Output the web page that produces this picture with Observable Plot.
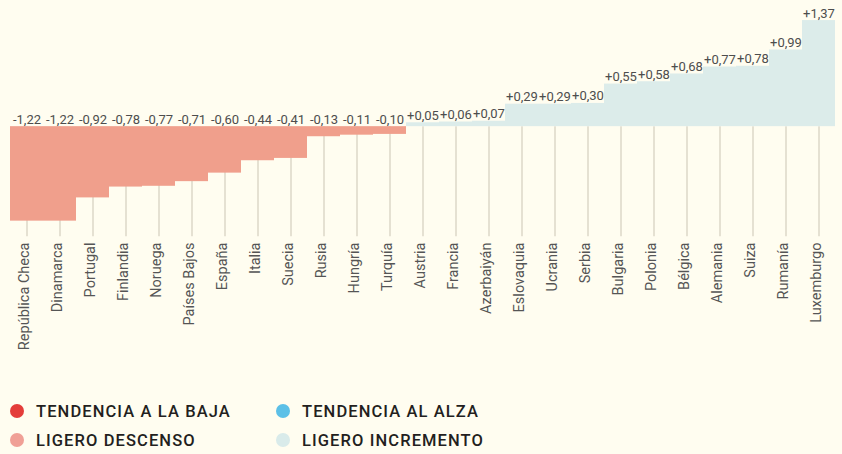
<!DOCTYPE html>
<html lang="es">
<head>
<meta charset="utf-8">
<script src="https://cdn.jsdelivr.net/npm/d3@7"></script>
<script src="https://cdn.jsdelivr.net/npm/@observablehq/plot@0.6"></script>
<style>
  html, body { margin: 0; padding: 0; background: #fffdf0; }
  body { width: 842px; height: 454px; overflow: hidden; font-family: Roboto, "Noto Sans", sans-serif; }
  #chart svg { display: block; }
  .leyenda {
    display: grid;
    grid-template-columns: 266px 300px;
    row-gap: 1px;
    padding: 7px 0 0 10px;
  }
  .item {
    display: flex; align-items: center;
    height: 28px;
    font-size: 16.5px; font-weight: 500; letter-spacing: 1.1px;
    color: #231f20;
  }
  .punto { width: 14px; height: 14px; border-radius: 50%; margin-right: 12px; flex: none; }
</style>
</head>
<body>
<div id="chart"></div>
<div class="leyenda" id="leyenda"></div>
<script>
// Países ordenados de mayor descenso a mayor incremento
const paises = [
  "República Checa", "Dinamarca", "Portugal", "Finlandia", "Noruega", "Países Bajos",
  "España", "Italia", "Suecia", "Rusia", "Hungría", "Turquía",
  "Austria", "Francia", "Azerbaiyán", "Eslovaquia", "Ucrania", "Serbia",
  "Bulgaria", "Polonia", "Bélgica", "Alemania", "Suiza", "Rumanía", "Luxemburgo"
];
const valores = [
  -1.22, -1.22, -0.92, -0.78, -0.77, -0.71,
  -0.60, -0.44, -0.41, -0.13, -0.11, -0.10,
  0.05, 0.06, 0.07, 0.29, 0.29, 0.30,
  0.55, 0.58, 0.68, 0.77, 0.78, 0.99, 1.37
];

// Categorías de la leyenda
const categorias = ["TENDENCIA A LA BAJA", "TENDENCIA AL ALZA", "LIGERO DESCENSO", "LIGERO INCREMENTO"];
const coloresCategorias = ["#e43d3a", "#5cc0e7", "#f0a096", "#d9ebea"];

const datos = paises.map((pais, i) => ({
  pais,
  valor: valores[i],
  categoria: valores[i] < 0 ? "LIGERO DESCENSO" : "LIGERO INCREMENTO"
}));

const formato = v => (v > 0 ? "+" : "") + v.toFixed(2).replace(".", ",");

const grafico = Plot.plot({
  width: 842,
  height: 390,
  marginLeft: 10,
  marginRight: 7,
  marginTop: 10,
  marginBottom: 150,
  style: { background: "transparent", fontFamily: "Roboto, 'Noto Sans', sans-serif" },
  x: { domain: paises, padding: 0, round: false, axis: null },
  y: { domain: [-1.47, 1.5], axis: null },
  color: { domain: categorias, range: ["#e43d3a", "#5cc0e7", "#f09f8c", "#dcecea"] },
  marks: [
    // guías verticales desde la línea de cero hasta la etiqueta
    Plot.ruleX(datos, { x: "pais", y1: 0, y2: -1.42, stroke: "#dcd7c9", strokeWidth: 1.5 }),
    Plot.barY(datos, { x: "pais", y: "valor", fill: "categoria" }),
    Plot.text(datos, {
      x: "pais",
      y: d => Math.max(0, d.valor),
      text: d => formato(d.valor),
      lineAnchor: "bottom",
      dy: -3,
      fontSize: 13,
      fill: "#4d4d4d"
    }),
    Plot.axisX({
      tickRotate: -90,
      tickSize: 0,
      tickPadding: 2,
      fontSize: 14.5,
      color: "#555",
      label: null,
      dx: -3
    })
  ]
});
document.getElementById("chart").appendChild(grafico);

// Leyenda
const leyenda = document.getElementById("leyenda");
categorias.forEach((c, i) => {
  const item = document.createElement("div");
  item.className = "item";
  const punto = document.createElement("span");
  punto.className = "punto";
  punto.style.background = coloresCategorias[i];
  item.appendChild(punto);
  item.appendChild(document.createTextNode(c));
  leyenda.appendChild(item);
});
</script>
</body>
</html>
